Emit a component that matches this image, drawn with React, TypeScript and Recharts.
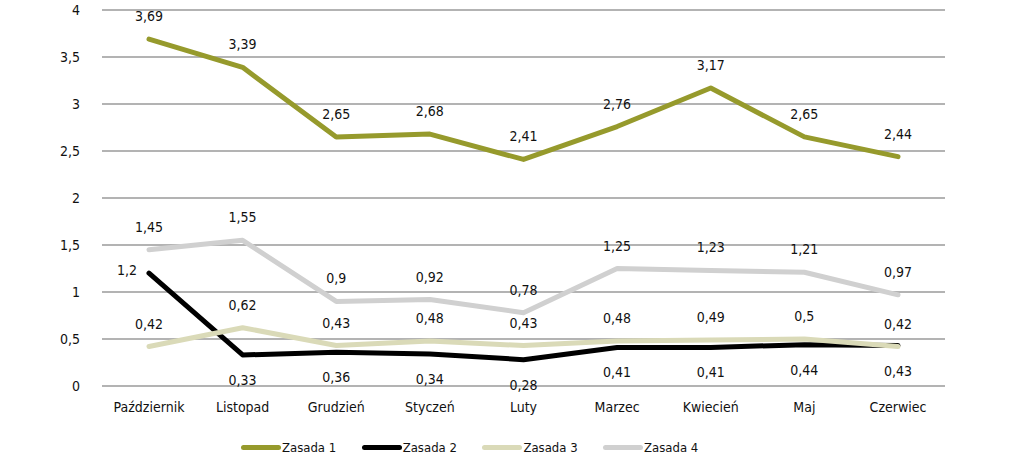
import React from 'react';
import { LineChart, Line, XAxis, YAxis, CartesianGrid, Legend, LabelList } from 'recharts';

const months = ['Październik', 'Listopad', 'Grudzień', 'Styczeń', 'Luty', 'Marzec', 'Kwiecień', 'Maj', 'Czerwiec'];
const zasada1 = [3.69, 3.39, 2.65, 2.68, 2.41, 2.76, 3.17, 2.65, 2.44];
const zasada2 = [1.2, 0.33, 0.36, 0.34, 0.28, 0.41, 0.41, 0.44, 0.43];
const zasada3 = [0.42, 0.62, 0.43, 0.48, 0.43, 0.48, 0.49, 0.5, 0.42];
const zasada4 = [1.45, 1.55, 0.9, 0.92, 0.78, 1.25, 1.23, 1.21, 0.97];
const yTicks = [0, 0.5, 1, 1.5, 2, 2.5, 3, 3.5, 4];

const data = months.map((m, i) => ({
  name: m,
  'Zasada 1': zasada1[i],
  'Zasada 2': zasada2[i],
  'Zasada 3': zasada3[i],
  'Zasada 4': zasada4[i],
}));

const FONT = '"Liberation Sans Narrow", "DejaVu Sans Condensed", "Roboto Condensed", sans-serif';
const TEXT = '#111111';
const fmt = (v: number) => String(v).replace('.', ',');

const SERIES = [
  { key: 'Zasada 1', color: '#969a2c' },
  { key: 'Zasada 2', color: '#000000' },
  { key: 'Zasada 3', color: '#dadab8' },
  { key: 'Zasada 4', color: '#d0d0d0' },
];

const AboveLabel = (props: any) => {
  const { x, y, value } = props;
  return (
    <text x={x} y={y - 18} textAnchor="middle" fontSize={14} fill={TEXT} fontFamily={FONT}>
      {fmt(value)}
    </text>
  );
};

const BelowLabel = (props: any) => {
  const { x, y, value, index } = props;
  if (index === 0) {
    return (
      <text x={x - 12} y={y + 2} textAnchor="end" fontSize={14} fill={TEXT} fontFamily={FONT}>
        {fmt(value)}
      </text>
    );
  }
  return (
    <text x={x} y={y + 30} textAnchor="middle" fontSize={14} fill={TEXT} fontFamily={FONT}>
      {fmt(value)}
    </text>
  );
};

const LegendContent = () => (
  <div style={{ position: 'relative', height: 40, width: 1024, fontFamily: FONT, fontSize: 13, color: TEXT }}>
    {SERIES.map((s, i) => (
      <div
        key={s.key}
        style={{ position: 'absolute', left: 241 + i * 120.7, top: 17, display: 'flex', alignItems: 'center', height: 16 }}
      >
        <span style={{ display: 'inline-block', width: 40, height: 5, borderRadius: 3, background: s.color, marginRight: 1 }} />
        <span>{s.key}</span>
      </div>
    ))}
  </div>
);

export default function App() {
  return (
    <div style={{ position: 'fixed', left: 0, top: 0, width: 1024, height: 462, background: '#fff' }}>
      <LineChart width={1024} height={462} data={data} margin={{ top: 10, right: 79, left: 0, bottom: 0 }}>
        <CartesianGrid horizontal vertical={false} stroke="#9a9a9a" strokeWidth={1.5} />
        <XAxis
          dataKey="name"
          axisLine={false}
          tickLine={false}
          tickSize={0}
          tickMargin={16}
          height={36}
          interval={0}
          padding={{ left: 47, right: 47 }}
          tick={{ fill: TEXT, fontSize: 14, fontFamily: FONT }}
        />
        <YAxis
          domain={[0, 4]}
          ticks={yTicks}
          width={102}
          axisLine={false}
          tickLine={false}
          tickSize={0}
          tickMargin={22}
          tickFormatter={(v: number) => fmt(v)}
          tick={{ fill: TEXT, fontSize: 14, fontFamily: FONT }}
        />
        <Legend verticalAlign="bottom" height={40} wrapperStyle={{ left: 0, width: 1024 }} content={<LegendContent />} />
        <Line dataKey="Zasada 1" stroke="#969a2c" strokeWidth={5} dot={false} strokeLinecap="round" strokeLinejoin="round" isAnimationActive={false}>
          <LabelList dataKey="Zasada 1" content={<AboveLabel />} />
        </Line>
        <Line dataKey="Zasada 2" stroke="#000000" strokeWidth={5} dot={false} strokeLinecap="round" strokeLinejoin="round" isAnimationActive={false}>
          <LabelList dataKey="Zasada 2" content={<BelowLabel />} />
        </Line>
        <Line dataKey="Zasada 3" stroke="#dadab8" strokeWidth={5} dot={false} strokeLinecap="round" strokeLinejoin="round" isAnimationActive={false}>
          <LabelList dataKey="Zasada 3" content={<AboveLabel />} />
        </Line>
        <Line dataKey="Zasada 4" stroke="#d0d0d0" strokeWidth={5} dot={false} strokeLinecap="round" strokeLinejoin="round" isAnimationActive={false}>
          <LabelList dataKey="Zasada 4" content={<AboveLabel />} />
        </Line>
      </LineChart>
    </div>
  );
}
